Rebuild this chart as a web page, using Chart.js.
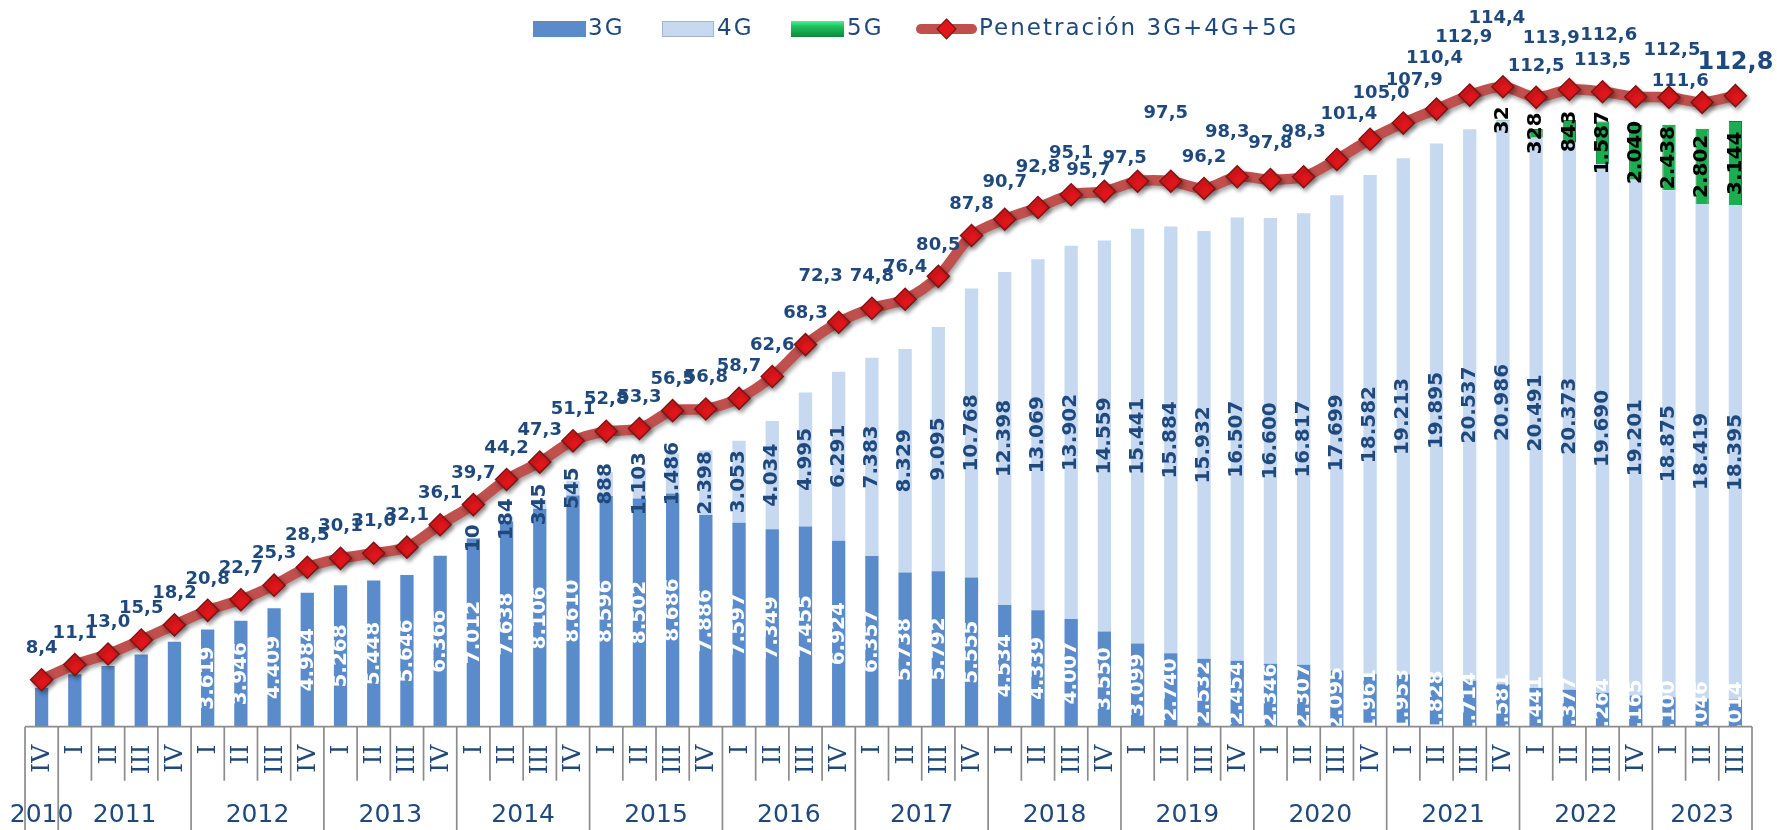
<!DOCTYPE html>
<html>
<head>
<meta charset="utf-8">
<title>Penetración 3G+4G+5G</title>
<script src="https://cdn.jsdelivr.net/npm/chart.js@4.4.1/dist/chart.umd.min.js"></script>
<style>
  html, body { margin: 0; padding: 0; background: #ffffff; }
  #chart { display: block; }
</style>
</head>
<body>
<canvas id="chart" width="1777" height="830"></canvas>
<script>
// quarter labels (2010 IV .. 2023 III)
let quarters = [
  "IV",
  "I", "II", "III", "IV",
  "I", "II", "III", "IV",
  "I", "II", "III", "IV",
  "I", "II", "III", "IV",
  "I", "II", "III", "IV",
  "I", "II", "III", "IV",
  "I", "II", "III", "IV",
  "I", "II", "III", "IV",
  "I", "II", "III", "IV",
  "I", "II", "III", "IV",
  "I", "II", "III", "IV",
  "I", "II", "III", "IV",
  "I", "II", "III",
];
let years = ["2010", "2011", "2012", "2013", "2014", "2015", "2016",
  "2017", "2018", "2019", "2020", "2021", "2022", "2023"];
let quartersPerYear = [1, 4, 4, 4, 4, 4, 4, 4, 4, 4, 4, 4, 4, 3];

// lines in thousands
let lines3G = [
  1450, 1950, 2260, 2690, 3160,
  3619, 3946, 4409, 4984,
  5268, 5448, 5646, 6366,
  7012, 7638, 8106, 8610,
  8596, 8502, 8686, 7886,
  7597, 7349, 7455, 6924,
  6357, 5738, 5792, 5555,
  4534, 4339, 4007, 3550,
  3099, 2740, 2532, 2454,
  2346, 2307, 2095, 1961,
  1953, 1828, 1714, 1581,
  1441, 1377, 1264, 1165,
  1100, 1046, 1014,
];
let lines4G = [
  null, null, null, null, null,
  null, null, null, null,
  null, null, null, null,
  10, 184, 345, 545,
  888, 1103, 1486, 2398,
  3053, 4034, 4995, 6291,
  7383, 8329, 9095, 10768,
  12398, 13069, 13902, 14559,
  15441, 15884, 15932, 16507,
  16600, 16817, 17699, 18582,
  19213, 19895, 20537, 20986,
  20491, 20373, 19690, 19201,
  18875, 18419, 18395,
];
let lines5G = [
  null, null, null, null, null,
  null, null, null, null,
  null, null, null, null,
  null, null, null, null,
  null, null, null, null,
  null, null, null, null,
  null, null, null, null,
  null, null, null, null,
  null, null, null, null,
  null, null, null, null,
  null, null, null, 32,
  328, 843, 1587, 2040,
  2438, 2802, 3144,
];
// penetration per 100 inhabitants
let penetration = [
  8.4, 11.1, 13.0, 15.5, 18.2,
  20.8, 22.7, 25.3, 28.5,
  30.1, 31.0, 32.1, 36.1,
  39.7, 44.2, 47.3, 51.1,
  52.8, 53.3, 56.5, 56.8,
  58.7, 62.6, 68.3, 72.3,
  74.8, 76.4, 80.5, 87.8,
  90.7, 92.8, 95.1, 95.7,
  97.5, 97.5, 96.2, 98.3,
  97.8, 98.3, 101.4, 105.0,
  107.9, 110.4, 112.9, 114.4,
  112.5, 113.9, 113.5, 112.6,
  112.5, 111.6, 112.8,
];

// first quarter whose 3G value is labelled
let first3GLabel = 5;

// hand placed penetration labels (px shift from the default spot)
let penLabelDx = { 24: -18, 32: -16, 33: -13, 34: -5, 36: -10, 39: 12, 40: 11, 41: 11,
  42: -2, 43: -6, 44: -6, 46: -18, 48: -27, 49: 3, 50: -22 };
let penLabelDy = { 24: -46, 29: -37, 30: -40, 31: -41, 32: -21, 33: -23, 34: -68, 36: -44,
  37: -36, 38: -44, 39: -45, 40: -46, 41: -43, 42: -51, 43: -58, 44: -68, 46: -51,
  48: -61, 49: -47, 50: -21, 51: -33 };

const NAVY = "#1F497D";
const COLOR_3G = "#5A8CCB";
const COLOR_4G = "#C6D9F1";
const COLOR_5G = "#1AAE50";
const COLOR_LINE = "#C0504D";

function fmtThousands(v) {
  return v.toLocaleString("de-DE");
}

function fmtPct(v) {
  return v.toFixed(1).replace(".", ",");
}

function drawVertText(ctx, text, x, y) {
  ctx.save();
  ctx.translate(x, y);
  ctx.rotate(-Math.PI / 2);
  ctx.fillText(text, 0, 0);
  ctx.restore();
}

const lineShadow = {
  id: "lineShadow",
  beforeDatasetDraw(chart, args) {
    if (args.index !== 3) return;
    let ctx = chart.ctx;
    ctx.save();
    ctx.shadowColor = "rgba(0,0,0,0.35)";
    ctx.shadowBlur = 4;
    ctx.shadowOffsetX = 2;
    ctx.shadowOffsetY = 3;
  },
  afterDatasetDraw(chart, args) {
    if (args.index !== 3) return;
    chart.ctx.restore();
  },
};

const valueLabels = {
  id: "valueLabels",
  afterDatasetsDraw(chart) {
    let ctx = chart.ctx;
    let area = chart.chartArea;

    ctx.save();
    ctx.font = "bold 20px 'DejaVu Sans'";
    ctx.textAlign = "center";
    ctx.textBaseline = "middle";

    // 3G : white, clipped to the plot
    ctx.save();
    ctx.beginPath();
    ctx.rect(area.left, area.top, area.right - area.left, area.bottom - area.top);
    ctx.clip();
    ctx.fillStyle = "#ffffff";
    chart.getDatasetMeta(0).data.forEach((el, i) => {
      if (i < first3GLabel || lines3G[i] == null) return;
      drawVertText(ctx, fmtThousands(lines3G[i]), el.x, (el.y + el.base) / 2);
    });
    ctx.restore();

    // 4G : navy
    ctx.fillStyle = NAVY;
    chart.getDatasetMeta(1).data.forEach((el, i) => {
      if (lines4G[i] == null) return;
      drawVertText(ctx, fmtThousands(lines4G[i]), el.x, (el.y + el.base) / 2);
    });

    // 5G : black
    ctx.fillStyle = "#000000";
    chart.getDatasetMeta(2).data.forEach((el, i) => {
      if (lines5G[i] == null) return;
      drawVertText(ctx, fmtThousands(lines5G[i]), el.x, (el.y + el.base) / 2);
    });

    // penetration line labels
    ctx.fillStyle = NAVY;
    let pts = chart.getDatasetMeta(3).data;
    pts.forEach((el, i) => {
      let dx = penLabelDx[i] || 0;
      let dy = penLabelDy[i] !== undefined ? penLabelDy[i] : -31.5;
      ctx.font = i === pts.length - 1 ? "bold 24px 'DejaVu Sans'" : "bold 18px 'DejaVu Sans'";
      ctx.fillText(fmtPct(penetration[i]), el.x + dx, el.y + dy);
    });
    ctx.restore();
  },
};

const categoryTable = {
  id: "categoryTable",
  afterDraw(chart) {
    let ctx = chart.ctx;
    let area = chart.chartArea;
    let x = chart.scales.x;
    let base = area.bottom;
    let step = x.getPixelForValue(1) - x.getPixelForValue(0);

    let yearEdges = [0];
    quartersPerYear.forEach((n) => yearEdges.push(yearEdges[yearEdges.length - 1] + n));

    ctx.save();
    ctx.strokeStyle = "#8C8C8C";
    ctx.lineWidth = 1.7;
    ctx.beginPath();
    ctx.moveTo(area.left, base);
    ctx.lineTo(area.right, base);
    ctx.stroke();

    for (let i = 0; i <= quarters.length; i++) {
      let px = x.getPixelForValue(0) - step / 2 + i * step;
      let full = yearEdges.includes(i);
      ctx.beginPath();
      ctx.moveTo(px, base);
      ctx.lineTo(px, full ? chart.height : base + 54);
      ctx.stroke();
    }

    // quarter numerals
    ctx.fillStyle = NAVY;
    ctx.font = "25px 'DejaVu Serif'";
    ctx.textAlign = "right";
    ctx.textBaseline = "middle";
    quarters.forEach((q, i) => {
      ctx.save();
      ctx.translate(x.getPixelForValue(i) + 1, base + 18);
      ctx.rotate(-Math.PI / 2);
      ctx.fillText(q, 0, 0);
      ctx.restore();
    });

    // years
    ctx.font = "25px 'DejaVu Sans'";
    ctx.textAlign = "center";
    years.forEach((yr, k) => {
      let a = x.getPixelForValue(yearEdges[k]);
      let b = x.getPixelForValue(yearEdges[k + 1] - 1);
      ctx.fillText(yr, (a + b) / 2, base + 89);
    });
    ctx.restore();
  },
};

const topLegend = {
  id: "topLegend",
  afterDraw(chart) {
    let ctx = chart.ctx;
    let yMid = 29;
    ctx.save();
    ctx.font = "23px 'DejaVu Sans'";
    ctx.letterSpacing = "2px";
    ctx.textBaseline = "middle";
    ctx.textAlign = "left";

    ctx.fillStyle = COLOR_3G;
    ctx.fillRect(533, 21, 53, 16);
    ctx.fillStyle = NAVY;
    ctx.fillText("3G", 588, yMid);

    ctx.fillStyle = COLOR_4G;
    ctx.fillRect(662, 21, 52, 16);
    ctx.strokeStyle = "#A5B6CC";
    ctx.lineWidth = 1;
    ctx.strokeRect(662.5, 21.5, 51, 15);
    ctx.fillStyle = NAVY;
    ctx.fillText("4G", 717, yMid);

    let grad = ctx.createLinearGradient(0, 21, 0, 37);
    grad.addColorStop(0, "#46F59A");
    grad.addColorStop(0.35, "#1FBF5E");
    grad.addColorStop(1, "#0D8A3C");
    ctx.fillStyle = grad;
    ctx.fillRect(791, 21, 53, 16);
    ctx.fillStyle = NAVY;
    ctx.fillText("5G", 847, yMid);

    ctx.strokeStyle = COLOR_LINE;
    ctx.lineWidth = 10;
    ctx.lineCap = "round";
    ctx.beginPath();
    ctx.moveTo(921, yMid);
    ctx.lineTo(972, yMid);
    ctx.stroke();
    ctx.fillStyle = "#E0161B";
    ctx.strokeStyle = "#7F1414";
    ctx.lineWidth = 1.2;
    ctx.beginPath();
    ctx.moveTo(946.5, yMid - 10);
    ctx.lineTo(956, yMid);
    ctx.lineTo(946.5, yMid + 10);
    ctx.lineTo(937, yMid);
    ctx.closePath();
    ctx.fill();
    ctx.stroke();
    ctx.fillStyle = NAVY;
    ctx.fillText("Penetración 3G+4G+5G", 979, yMid);
    ctx.restore();
  },
};

let ctx = document.getElementById("chart").getContext("2d");

let chart = new Chart(ctx, {
  type: "bar",
  data: {
    labels: quarters,
    datasets: [
      {
        label: "3G",
        data: lines3G,
        backgroundColor: COLOR_3G,
        yAxisID: "y",
        order: 1,
      },
      {
        label: "4G",
        data: lines4G,
        backgroundColor: COLOR_4G,
        yAxisID: "y",
        order: 1,
      },
      {
        label: "5G",
        data: lines5G,
        backgroundColor: COLOR_5G,
        borderColor: "#0E7C37",
        borderWidth: 1,
        yAxisID: "y",
        order: 1,
      },
      {
        type: "line",
        label: "Penetración 3G+4G+5G",
        data: penetration,
        yAxisID: "y1",
        borderColor: COLOR_LINE,
        borderWidth: 10.5,
        tension: 0.3,
        pointStyle: "rectRot",
        pointRadius: 11,
        pointBackgroundColor: "#E0161B",
        pointBorderColor: "#7F1414",
        pointBorderWidth: 1.5,
        clip: false,
        order: 0,
      },
    ],
  },
  options: {
    responsive: false,
    animation: false,
    events: [],
    layout: {
      padding: { left: 25, right: 25, top: 55.4, bottom: 103.3 },
    },
    datasets: {
      bar: { categoryPercentage: 1.0, barPercentage: 0.4 },
    },
    plugins: {
      legend: { display: false },
      tooltip: { enabled: false },
    },
    scales: {
      x: { display: false, stacked: true },
      y: { display: false, stacked: true, min: 0, max: 25000 },
      y1: { display: false, min: 0, max: 120 },
    },
  },
  plugins: [lineShadow, valueLabels, categoryTable, topLegend],
});
</script>
</body>
</html>
